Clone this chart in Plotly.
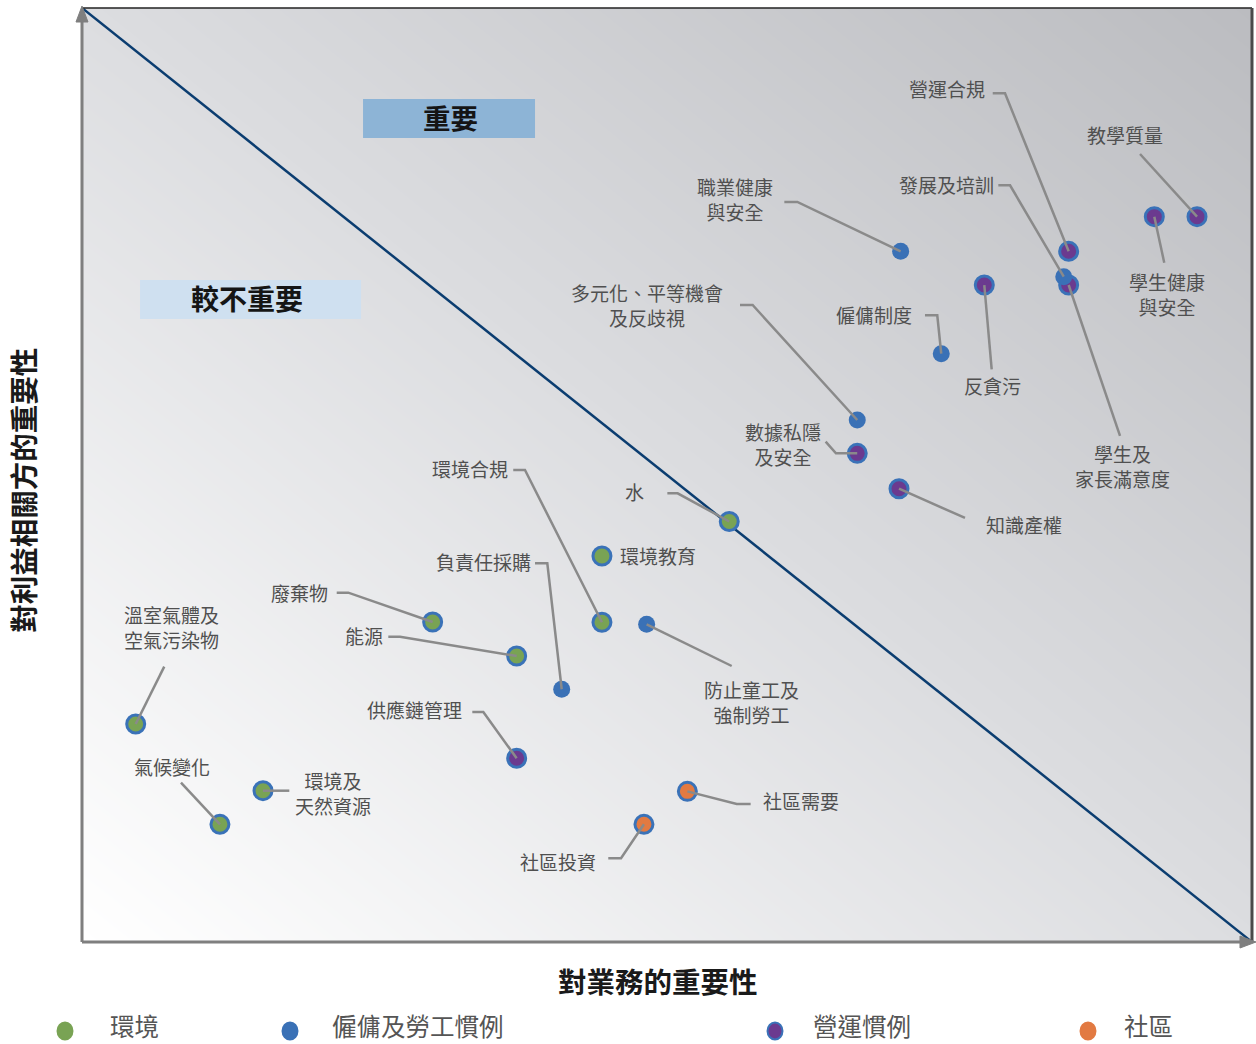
import plotly.graph_objects as go
import numpy as np

# ---------------- data ----------------
categories = ["環境", "僱傭及勞工慣例", "營運慣例", "社區"]

topics = [
    "營運合規", "教學質量", "學生健康與安全", "發展及培訓", "學生及家長滿意度",
    "反貪污", "僱傭制度", "職業健康與安全", "知識產權", "多元化、平等機會及反歧視",
    "數據私隱及安全", "水", "環境教育", "環境合規", "負責任採購",
    "廢棄物", "能源", "防止童工及強制勞工", "溫室氣體及空氣污染物", "供應鏈管理",
    "氣候變化", "環境及天然資源", "社區需要", "社區投資",
]
topic_category = [
    "營運慣例", "營運慣例", "營運慣例", "僱傭及勞工慣例", "營運慣例",
    "營運慣例", "僱傭及勞工慣例", "僱傭及勞工慣例", "營運慣例", "僱傭及勞工慣例",
    "營運慣例", "環境", "環境", "環境", "僱傭及勞工慣例",
    "環境", "環境", "僱傭及勞工慣例", "環境", "營運慣例",
    "環境", "環境", "社區", "社區",
]
business_importance = [
    84.33, 95.30, 91.65, 83.91, 84.33,
    77.12, 73.44, 69.97, 69.83, 66.26,
    66.26, 55.32, 44.44, 44.44, 41.00,
    29.97, 37.15, 48.26, 4.59, 37.15,
    11.79, 15.47, 51.74, 48.03,
]
stakeholder_importance = [
    73.95, 77.66, 77.66, 71.23, 70.34,
    70.34, 62.99, 73.95, 48.53, 55.89,
    52.32, 45.02, 41.33, 34.23, 27.06,
    34.26, 30.62, 34.01, 23.34, 19.67,
    12.60, 16.20, 16.13, 12.60,
]

# ---------------- label placement (layout only) ----------------
# name: (display text, label x, label y, xanchor, leader waypoints)
label_layout = {
    "營運合規": ("營運合規", 73.91, 91.33, "center", [(77.84, 90.87), (78.89, 90.87)]),
    "教學質量": ("教學質量", 89.15, 86.51, "center", [(90.43, 84.37)]),
    "學生健康與安全": ("學生健康<br>與安全", 92.74, 69.33, "center", [(92.50, 72.73)]),
    "發展及培訓": ("發展及培訓", 73.91, 81.08, "center", [(78.32, 81.02), (79.32, 81.02)]),
    "學生及家長滿意度": ("學生及<br>家長滿意度", 88.89, 50.96, "center", [(88.72, 54.18)]),
    "反貪污": ("反貪污", 77.78, 59.53, "center", [(77.75, 61.32)]),
    "僱傭制度": ("僱傭制度", 67.67, 67.21, "center", [(72.05, 67.10), (73.10, 67.10)]),
    "職業健康與安全": ("職業健康<br>與安全", 55.81, 79.55, "center", [(60.03, 79.23), (61.14, 79.23)]),
    "知識產權": ("知識產權", 80.51, 44.65, "center", [(75.47, 45.40)]),
    "多元化、平等機會及反歧視": ("多元化、平等機會<br>及反歧視", 48.26, 68.20, "center", [(56.24, 68.20), (57.32, 68.20)]),
    "數據私隱及安全": ("數據私隱<br>及安全", 59.94, 53.37, "center", [(63.56, 53.57), (64.44, 52.32)]),
    "水": ("水", 47.26, 48.21, "center", [(50.03, 48.04), (50.91, 48.04)]),
    "環境教育": ("環境教育", 45.80, 41.33, "left", []),
    "環境合規": ("環境合規", 33.16, 50.72, "center", [(36.86, 50.54), (37.86, 50.54)]),
    "負責任採購": ("負責任採購", 34.30, 40.72, "center", [(38.72, 40.55), (39.77, 40.55)]),
    "廢棄物": ("廢棄物", 18.63, 37.40, "center", [(21.77, 37.40), (22.76, 37.40)]),
    "能源": ("能源", 24.10, 32.79, "center", [(26.18, 32.69), (27.18, 32.69)]),
    "防止童工及強制勞工": ("防止童工及<br>強制勞工", 57.24, 25.70, "center", [(55.53, 29.55)]),
    "溫室氣體及空氣污染物": ("溫室氣體及<br>空氣污染物", 7.67, 33.69, "center", [(7.03, 29.48)]),
    "供應鏈管理": ("供應鏈管理", 28.44, 24.84, "center", [(33.36, 24.63), (34.30, 24.63)]),
    "氣候變化": ("氣候變化", 7.67, 18.77, "center", [(8.46, 17.06)]),
    "環境及天然資源": ("環境及<br>天然資源", 21.48, 15.95, "center", [(17.72, 16.20)]),
    "社區需要": ("社區需要", 58.05, 15.20, "left", [(57.15, 14.78), (55.96, 14.78)]),
    "社區投資": ("社區投資", 44.09, 8.67, "right", [(44.98, 8.96), (46.07, 8.96)]),
}

# ---------------- styles ----------------
FONT = "Noto Sans CJK TC"
fill_colors = {"環境": "#79a354", "僱傭及勞工慣例": "#3a71b6", "營運慣例": "#6b3a8f", "社區": "#e27a42"}
OUTLINE = "#3a72b8"
LABEL_COLOR = "#505050"
LEADER_COLOR = "#8a8a8a"

fig = go.Figure()

# gradient background
gx = np.linspace(0, 100, 21)
gy = np.linspace(0, 100, 21)
gz = gy[:, None] + gx[None, :]
fig.add_trace(go.Heatmap(
    x=gx, y=gy, z=gz, zmin=0, zmax=200, zsmooth="best", showscale=False, hoverinfo="skip",
    colorscale=[[0, "#ffffff"], [0.5, "#dcdde0"], [1, "#bbbcc0"]],
))

# diagonal
fig.add_trace(go.Scatter(x=[0, 100], y=[100, 0], mode="lines",
                         line=dict(color="#0b3d70", width=2.5), hoverinfo="skip", showlegend=False))

# markers per category (blue last so it sits on top)
for cat in ["環境", "社區", "營運慣例", "僱傭及勞工慣例"]:
    xs = [business_importance[i] for i in range(len(topics)) if topic_category[i] == cat]
    ys = [stakeholder_importance[i] for i in range(len(topics)) if topic_category[i] == cat]
    if cat == "僱傭及勞工慣例":
        mk = dict(size=17, color=fill_colors[cat], line=dict(width=0))
    else:
        mk = dict(size=18, color=fill_colors[cat], line=dict(color=OUTLINE, width=3))
    fig.add_trace(go.Scatter(x=xs, y=ys, mode="markers", marker=mk, name=cat,
                             hoverinfo="skip", showlegend=False))

# leader lines (above markers)
lx, ly = [], []
for i, t in enumerate(topics):
    pts = label_layout[t][4]
    if not pts:
        continue
    for p in pts:
        lx.append(p[0]); ly.append(p[1])
    lx.append(business_importance[i]); ly.append(stakeholder_importance[i])
    lx.append(None); ly.append(None)
fig.add_trace(go.Scatter(x=lx, y=ly, mode="lines", line=dict(color=LEADER_COLOR, width=2.5),
                         hoverinfo="skip", showlegend=False))

annotations = []
for t in topics:
    txt, x, y, anc, _ = label_layout[t]
    annotations.append(dict(x=x, y=y, xref="x", yref="y", text=txt, showarrow=False,
                            xanchor=anc, yanchor="middle", align="center",
                            font=dict(family=FONT, size=19, color=LABEL_COLOR)))

# quadrant boxes
shapes = [
    dict(type="rect", xref="x", yref="y", x0=24.02, x1=38.72, y0=86.08, y1=90.26,
         fillcolor="#8db4d6", line=dict(width=0)),
    dict(type="rect", xref="x", yref="y", x0=4.96, x1=23.85, y0=66.70, y1=70.88,
         fillcolor="#cfe0f0", line=dict(width=0)),
]
annotations.append(dict(x=31.5, y=88.3, xref="x", yref="y", text="<b>重要</b>", showarrow=False,
                        font=dict(family=FONT, size=27.5, color="#151515")))
annotations.append(dict(x=14.1, y=68.9, xref="x", yref="y", text="<b>較不重要</b>", showarrow=False,
                        font=dict(family=FONT, size=28, color="#151515")))

# frame & axes arrows (paper coords)
AX = "#7f7f7f"
shapes += [
    dict(type="line", xref="paper", yref="paper", x0=0, x1=1, y0=1, y1=1, line=dict(color="#222222", width=1.3)),
    dict(type="line", xref="paper", yref="paper", x0=1, x1=1, y0=0, y1=1, line=dict(color="#4a4a4a", width=3)),
    dict(type="line", xref="paper", yref="paper", x0=0, x1=0, y0=0, y1=0.985, line=dict(color=AX, width=3)),
    dict(type="path", xref="paper", yref="paper", path="M -0.00513,0.985 L 0.00513,0.985 L 0,1.0021 Z",
         fillcolor=AX, line=dict(color=AX, width=1)),
    dict(type="line", xref="paper", yref="paper", x0=0, x1=0.99, y0=0, y1=0, line=dict(color=AX, width=3)),
    dict(type="path", xref="paper", yref="paper", path="M 0.98974,0.00642 L 0.98974,-0.00642 L 1.00342,0 Z",
         fillcolor=AX, line=dict(color=AX, width=1)),
]

# axis titles
annotations.append(dict(x=0.4923, y=-0.0407, xref="paper", yref="paper", text="<b>對業務的重要性</b>",
                        showarrow=False, xanchor="center", yanchor="middle",
                        font=dict(family=FONT, size=28.5, color="#1a1a1a")))
annotations.append(dict(x=-0.0515, y=0.4839, xref="paper", yref="paper", text="<b>對利益相關方的重要性</b>",
                        showarrow=False, textangle=-90, xanchor="center", yanchor="middle",
                        font=dict(family=FONT, size=28.5, color="#1a1a1a")))

# manual legend
legend_dot_x = [-0.01453, 0.17778, 0.59231, 0.85983]
legend_text_x = [0.02222, 0.21197, 0.62308, 0.88889]
LEG_DOT_Y = -0.0953
LEG_TXT_Y = -0.0889
for k, cat in enumerate(categories):
    cx = legend_dot_x[k]
    outline = OUTLINE if cat == "營運慣例" else fill_colors[cat]
    shapes.append(dict(type="circle", xref="paper", yref="paper",
                       x0=cx - 0.0064, x1=cx + 0.0064, y0=LEG_DOT_Y - 0.0091, y1=LEG_DOT_Y + 0.0091,
                       fillcolor=fill_colors[cat], line=dict(color=outline, width=2)))
    annotations.append(dict(x=legend_text_x[k], y=LEG_TXT_Y, xref="paper", yref="paper", text=cat,
                            showarrow=False, xanchor="left", yanchor="middle",
                            font=dict(family=FONT, size=24.5, color="#555555")))

fig.update_layout(
    width=1256, height=1044,
    margin=dict(l=82, r=4, t=8, b=102),
    paper_bgcolor="#ffffff", plot_bgcolor="#ffffff",
    xaxis=dict(range=[0, 100], visible=False, fixedrange=True),
    yaxis=dict(range=[0, 100], visible=False, fixedrange=True),
    shapes=shapes, annotations=annotations, showlegend=False,
    font=dict(family=FONT),
)

fig.write_html(
    "out.html",
    config={"displayModeBar": False},
    post_script="document.body.style.margin='0px';document.body.style.overflow='hidden';",
)
